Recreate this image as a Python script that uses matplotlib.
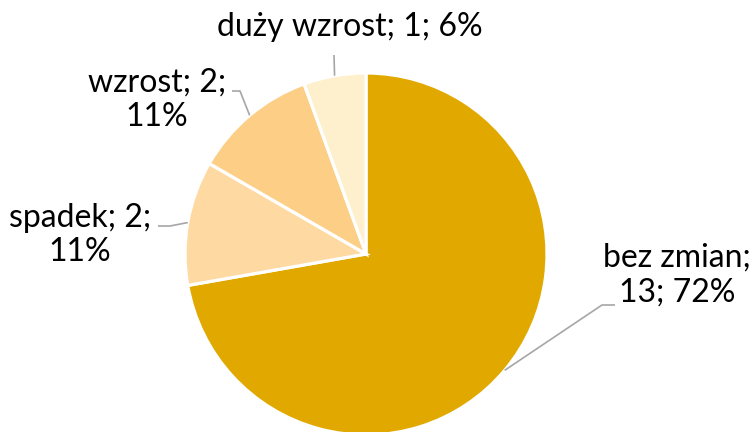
import numpy as np
import matplotlib.pyplot as plt

plt.rcParams['font.family'] = ['Lato', 'DejaVu Sans']

labels = ['bez zmian', 'spadek', 'wzrost', 'duży wzrost']
values = [13, 2, 2, 1]
colors = ['#E1A900', '#FED9A1', '#FDCE85', '#FEF0CD']

# label layout (pixel coords, y from top) and leader elbows
label_pos = [(677, 275), (80, 235), (157, 100), (350, 27)]
label_text = ['bez zmian;\n13; 72%', 'spadek; 2;\n11%', 'wzrost; 2;\n11%', 'duży wzrost; 1; 6%']
elbows = [[(602, 305), (615, 305)], [(170, 226), (158, 226)], [(240, 91), (232, 91)], [(334, 55)]]

W, H = 756, 432
fig = plt.figure(figsize=(W / 100, H / 100), dpi=100)
ax = fig.add_axes([0, 0, 1, 1])

cx, cy, r = 366, H - 254, 181
wedges, _ = ax.pie(values, colors=colors, startangle=90, counterclock=False,
                   center=(cx, cy), radius=r, frame=True,
                   wedgeprops=dict(edgecolor='white', linewidth=2.3))
ax.set_xlim(0, W)
ax.set_ylim(0, H)
ax.set_aspect('equal')
ax.axis('off')

for w, (lx, ly), txt, elb in zip(wedges, label_pos, label_text, elbows):
    mid = np.deg2rad((w.theta1 + w.theta2) / 2)
    px, py = cx + r * np.cos(mid), cy + r * np.sin(mid)
    xs = [px] + [e[0] for e in elb]
    ys = [py] + [H - e[1] for e in elb]
    ax.plot(xs, ys, color='#A6A6A6', lw=1.2, solid_capstyle='butt')
    ax.text(lx, H - ly, txt, ha='center', va='center', multialignment='center',
            fontsize=23, color='#000000', linespacing=1.2)

fig.savefig('out.png', dpi=100, facecolor='white')
